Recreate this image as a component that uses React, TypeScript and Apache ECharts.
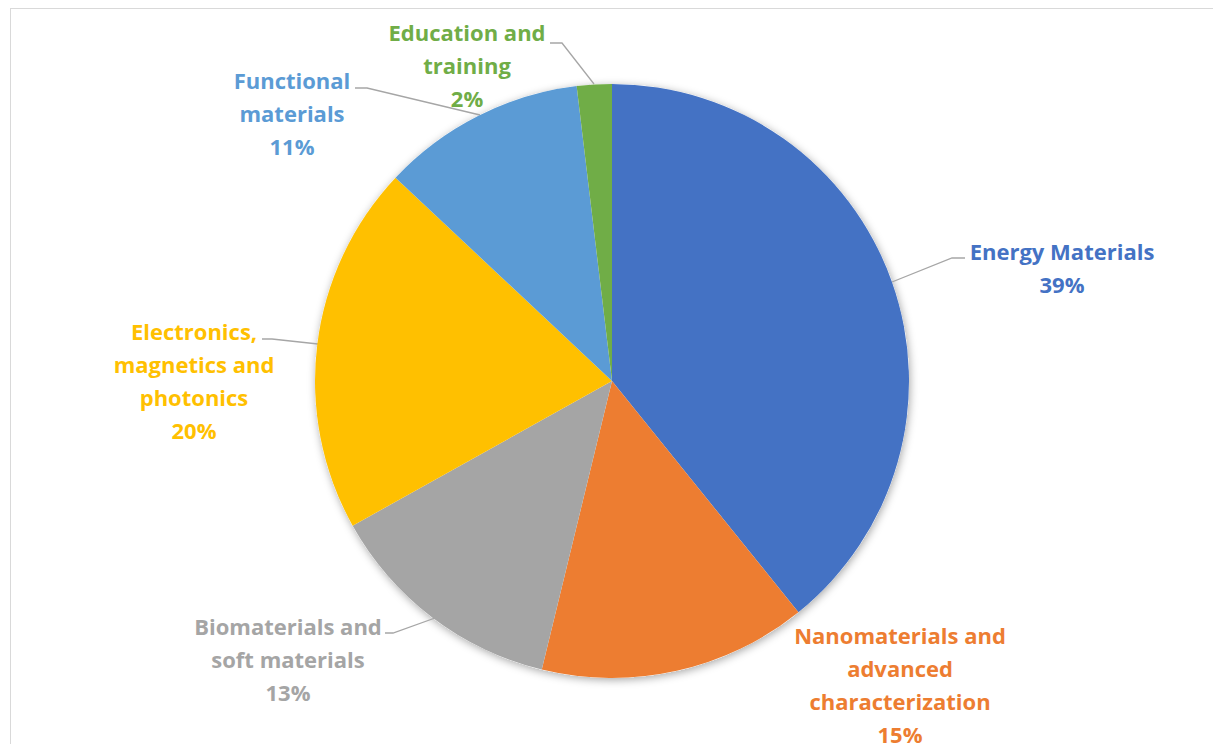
import React, { useEffect, useRef } from "react";
import * as echarts from "echarts";

const categories = [
  "Energy Materials",
  "Nanomaterials and advanced characterization",
  "Biomaterials and soft materials",
  "Electronics, magnetics and photonics",
  "Functional materials",
  "Education and training",
];
const labelText = [
  "Energy Materials",
  "Nanomaterials and\nadvanced\ncharacterization",
  "Biomaterials and\nsoft materials",
  "Electronics,\nmagnetics and\nphotonics",
  "Functional\nmaterials",
  "Education and\ntraining",
];
// shares (%); labels show them rounded
const values = [39.2, 14.6, 13.1, 20.1, 11.1, 1.9];
const colors = ["#4472C4", "#ED7D31", "#A5A5A5", "#FFC000", "#5B9BD5", "#70AD47"];

// label block centres and leader lines (layout only)
const labelPos: [number, number][] = [
  [1062, 267],
  [900, 684],
  [288, 659],
  [194, 380],
  [292, 113],
  [467, 65],
];
const leaderLines: ([number, number][] | null)[] = [
  [[892, 282], [952, 258], [965, 258]],
  null,
  [[435, 618], [393, 633], [385, 633]],
  [[318, 344], [272, 339], [262, 339]],
  [[480, 115], [367, 88], [355, 88]],
  [[594, 84], [562, 43], [550, 43]],
];

export default function App() {
  const ref = useRef<HTMLDivElement>(null);
  useEffect(() => {
    if (!ref.current) return;
    const chart = echarts.init(ref.current, undefined, { renderer: "svg" });
    const total = values.reduce((a, b) => a + b, 0);
    chart.setOption({
      animation: false,
      backgroundColor: "transparent",
      series: [
        {
          type: "pie",
          silent: true,
          z: 1,
          center: [612, 381],
          radius: 297,
          label: { show: false },
          labelLine: { show: false },
          itemStyle: {
            color: "#ffffff",
            shadowBlur: 8,
            shadowColor: "rgba(0,0,0,0.35)",
            shadowOffsetX: 1,
            shadowOffsetY: 2,
          },
          data: [{ value: 1, name: "" }],
        },
        {
          type: "pie",
          z: 2,
          center: [612, 381],
          radius: 297,
          startAngle: 90,
          clockwise: true,
          avoidLabelOverlap: false,
          itemStyle: { borderWidth: 0 },
          emphasis: { disabled: true },
          data: categories.map((name, i) => ({
            name,
            value: values[i],
            itemStyle: { color: colors[i] },
            label: {
              show: true,
              color: colors[i],
              formatter: () =>
                `${labelText[i]}\n${Math.round((values[i] / total) * 100)}%`,
            },
            labelLine: { show: leaderLines[i] !== null },
          })),
          label: {
            position: "outside",
            fontFamily: "Open Sans",
            fontWeight: "bold",
            fontSize: 22,
            lineHeight: 33,
            align: "center",
          },
          labelLine: {
            show: true,
            lineStyle: { color: "#a6a6a6", width: 1.3 },
          },
          labelLayout: (params: any) => {
            const i = params.dataIndex;
            const p = labelPos[i];
            const res: any = {
              x: p[0],
              y: p[1],
              align: "center",
              verticalAlign: "middle",
            };
            if (leaderLines[i]) res.labelLinePoints = leaderLines[i];
            return res;
          },
        },
      ],
    });
    return () => chart.dispose();
  }, []);
  return (
    <div>
      <div
        style={{
          position: "absolute",
          left: 10,
          top: 8,
          width: 1203,
          height: 736,
          boxSizing: "border-box",
          borderTop: "1.5px solid #d9d9d9",
          borderLeft: "1.5px solid #d9d9d9",
        }}
      />
      <div
        ref={ref}
        style={{ position: "absolute", left: 0, top: 0, width: 1213, height: 744 }}
      />
    </div>
  );
}
